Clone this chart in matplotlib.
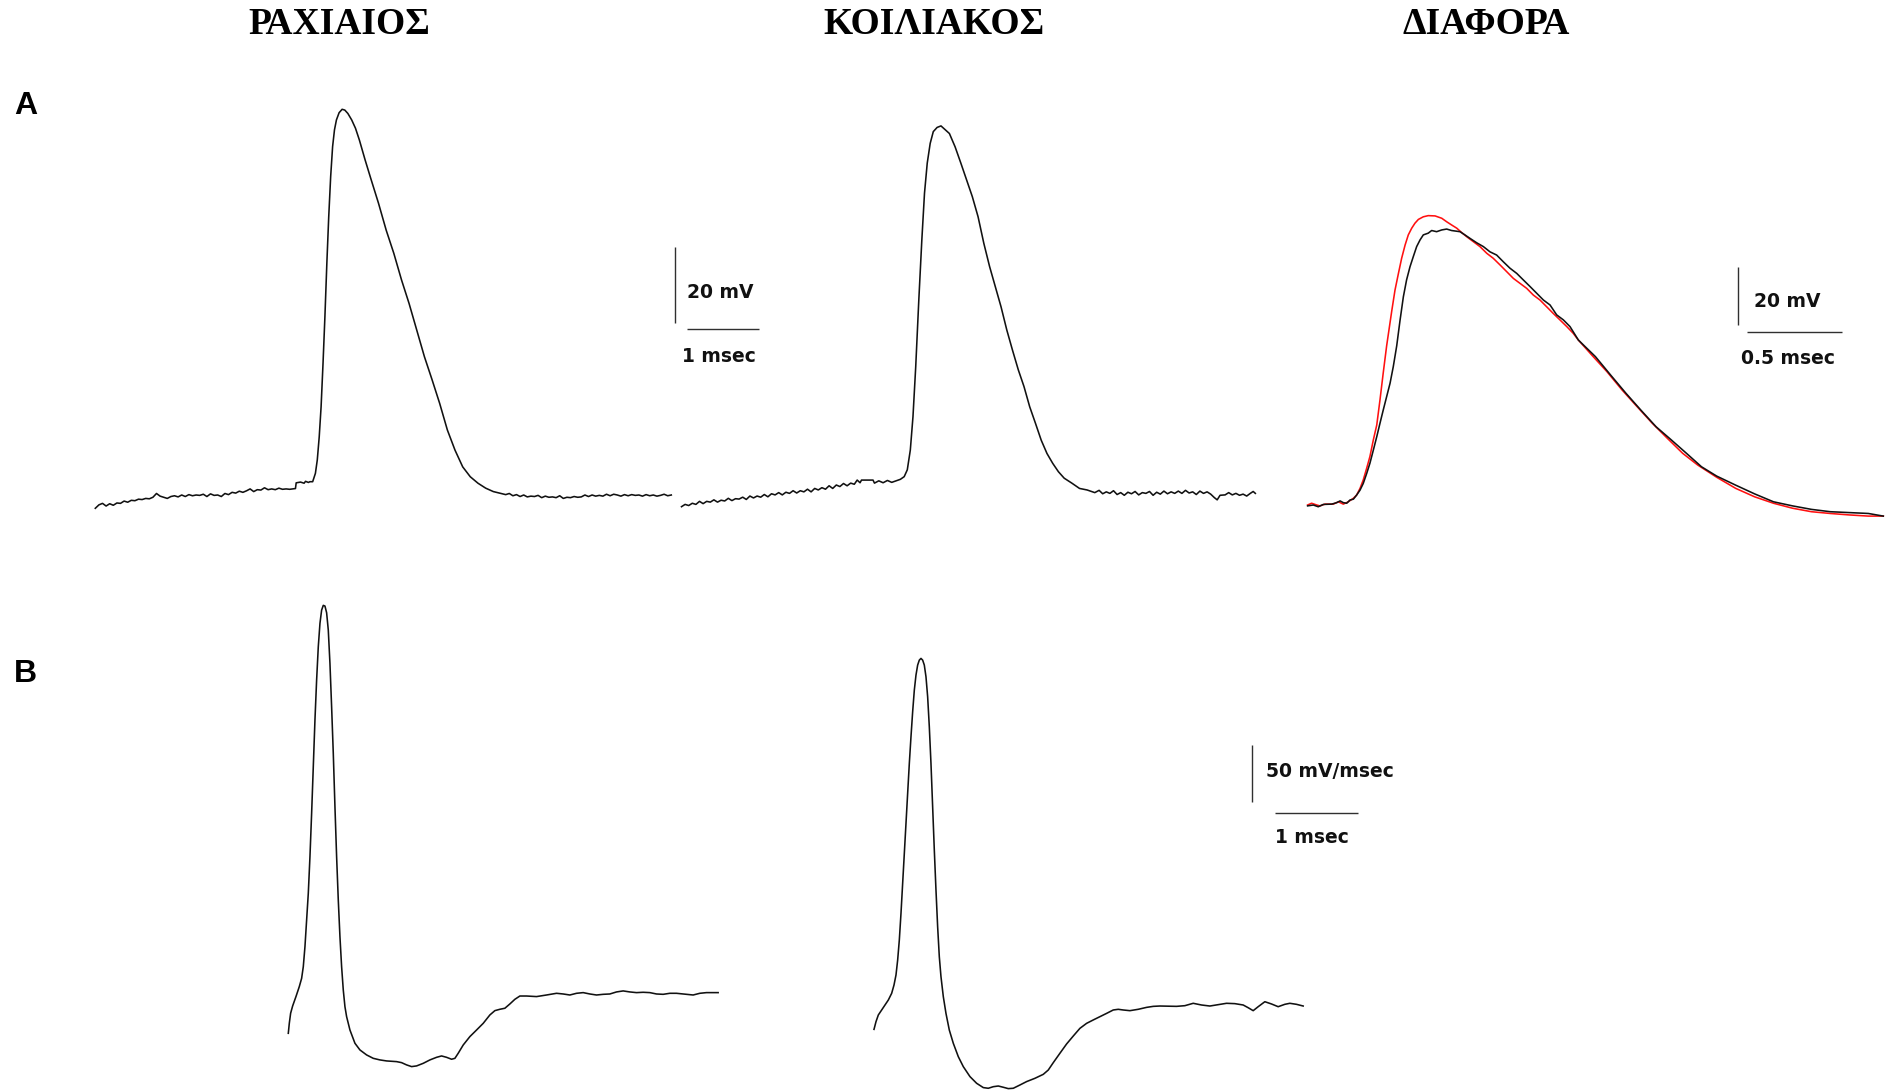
import matplotlib
matplotlib.use("Agg")
import matplotlib.pyplot as plt

W, H, DPI = 1894, 1091, 100

# ---------------- data ----------------
# A: membrane potential (ms, mV)
rachiaios_t = [0.00, 0.05, 0.10, 0.15, 0.20, 0.25, 0.30, 0.35, 0.40, 0.45, 0.50, 0.55, 0.60, 0.65,
               0.70, 0.75, 0.80, 0.85, 0.90, 0.95, 1.00, 1.05, 1.10, 1.15, 1.20, 1.25, 1.30, 1.35,
               1.40, 1.45, 1.50, 1.55, 1.60, 1.65, 1.70, 1.75, 1.80, 1.85, 1.90, 1.95, 2.00, 2.05,
               2.10, 2.15, 2.20, 2.25, 2.30, 2.35, 2.40, 2.45, 2.50, 2.55, 2.60, 2.65, 2.70, 2.78,
               2.79, 2.85, 2.90, 2.92, 2.96, 2.98,
               3.019, 3.057, 3.083, 3.110, 3.136, 3.163, 3.189, 3.216, 3.242, 3.269, 3.296, 3.322,
               3.349, 3.386, 3.428, 3.465, 3.508, 3.561, 3.614, 3.668, 3.747, 3.826, 3.933, 4.040,
               4.146, 4.253, 4.358, 4.465, 4.571, 4.678, 4.783, 4.890, 4.996, 5.103, 5.208, 5.315,
               5.422, 5.528, 5.635,
               5.70, 5.75, 5.80, 5.85, 5.90, 5.95, 6.00, 6.05, 6.10, 6.15, 6.20, 6.25, 6.30,
               6.35, 6.40, 6.45, 6.50, 6.55, 6.60, 6.65, 6.70, 6.75, 6.80, 6.85, 6.90, 6.95, 7.00,
               7.05, 7.10, 7.15, 7.20, 7.25, 7.30, 7.35, 7.40, 7.45, 7.50, 7.55, 7.60, 7.65, 7.70,
               7.75, 7.80, 7.85, 7.90, 7.95, 8.00]
rachiaios_v = [-78.5, -77.6, -77.2, -77.9, -77.3, -77.7, -77.1, -77.2, -76.6, -76.9, -76.4, -76.5,
               -76.1, -76.2, -75.9, -76.0, -75.6, -74.6, -75.3, -75.6, -75.9, -75.4, -75.2, -75.5,
               -75.0, -75.4, -74.9, -75.2, -75.0, -75.1, -74.8, -75.4, -74.7, -75.1, -75.0, -75.4,
               -74.6, -74.9, -74.3, -74.5, -74.0, -74.3, -73.9, -73.4, -74.1, -73.6, -73.7, -73.1,
               -73.6, -73.4, -73.6, -73.2, -73.5, -73.4, -73.5, -73.3,
               -71.8, -71.6, -71.9, -71.4, -71.7, -71.5,
               -71.5, -69.3, -65.8, -59.7, -51.8, -40.3, -28.1, -14.0, -1.8, 8.8, 16.7, 21.1,
               23.7, 25.6, 26.5, 26.3, 25.4, 23.7, 21.5, 18.4, 13.2, 8.3, 1.8, -5.3,
               -11.4, -18.4, -24.6, -31.6, -38.6, -44.7, -50.9, -57.9, -63.2, -67.6, -70.2, -71.9,
               -73.2, -74.1, -74.6,
               -74.9, -74.6, -75.2, -74.9, -75.4, -75.0, -75.5, -75.3, -75.4, -75.1, -75.7,
               -75.3, -75.6, -75.5, -75.7, -75.2, -75.9, -75.6, -75.7, -75.4, -75.6, -75.5, -75.0,
               -75.4, -75.0, -75.3, -75.1, -75.3, -74.8, -75.2, -74.8, -75.0, -75.3, -74.9, -75.2,
               -74.9, -75.1, -75.0, -75.3, -74.9, -75.2, -75.0, -75.3, -75.1, -74.8, -75.2, -75.0]

koiliakos_t = [0.00, 0.05, 0.10, 0.15, 0.20, 0.25, 0.30, 0.35, 0.40, 0.45, 0.50, 0.55, 0.60, 0.65,
               0.70, 0.75, 0.80, 0.85, 0.90, 0.95, 1.00, 1.05, 1.10, 1.15, 1.20, 1.25, 1.30, 1.35,
               1.40, 1.45, 1.50, 1.55, 1.60, 1.65, 1.70, 1.75, 1.80, 1.85, 1.90, 1.95, 2.00, 2.05,
               2.10, 2.15, 2.20, 2.25, 2.30, 2.35, 2.40, 2.44, 2.48, 2.50, 2.66, 2.68, 2.74, 2.80,
               2.86, 2.92, 2.98, 3.04,
               3.093, 3.136, 3.178, 3.215, 3.253, 3.296, 3.338, 3.375, 3.413, 3.454, 3.497, 3.550,
               3.604, 3.657, 3.721, 3.800, 3.880, 3.960, 4.039, 4.119, 4.199, 4.279, 4.358, 4.438,
               4.518, 4.597, 4.678, 4.757, 4.836, 4.917, 4.996, 5.076, 5.156, 5.235, 5.315, 5.421,
               5.528, 5.633, 5.740,
               5.80, 5.85, 5.90, 5.95, 6.00, 6.05, 6.10, 6.15, 6.20, 6.25, 6.30,
               6.35, 6.40, 6.45, 6.50, 6.55, 6.60, 6.65, 6.70, 6.75, 6.80, 6.85, 6.90, 6.95, 7.00,
               7.05, 7.10, 7.15, 7.20, 7.25, 7.30, 7.35, 7.40, 7.44, 7.48, 7.55, 7.60, 7.65, 7.70,
               7.75, 7.80, 7.85, 7.90, 7.94, 7.97]
koiliakos_v = [-78.6, -78.0, -78.3, -77.7, -78.0, -77.2, -77.8, -77.2, -77.4, -76.8, -77.4, -76.9,
               -77.1, -76.4, -77.0, -76.5, -76.6, -76.1, -76.7, -75.8, -76.3, -75.8, -76.1, -75.4,
               -76.0, -75.2, -75.5, -74.9, -75.5, -74.8, -75.1, -74.4, -75.0, -74.4, -74.7, -74.0,
               -74.7, -73.8, -74.2, -73.6, -74.0, -73.1, -73.8, -72.9, -73.3, -72.5, -73.1, -72.4,
               -72.7, -71.6, -72.3, -71.6, -71.6, -72.4, -71.8, -72.3, -71.7, -72.2, -71.8, -71.4,
               -70.7, -68.9, -63.7, -54.9, -41.8, -24.2, -8.4, 3.9, 11.8, 17.0, 20.1, 21.2,
               21.6, 20.7, 19.6, 16.1, 11.8, 7.4, 3.0, -2.3, -9.3, -15.4, -20.7, -26.0,
               -32.1, -37.4, -42.6, -47.0, -52.3, -56.7, -61.1, -64.6, -67.2, -69.4, -71.1, -72.4,
               -73.8, -74.2, -74.9,
               -74.3, -75.2, -74.7, -75.1, -74.4, -75.4, -74.9, -75.6, -74.8, -75.2, -74.6,
               -75.5, -74.9, -75.1, -74.6, -75.6, -74.8, -75.3, -74.5, -75.2, -74.7, -75.1,
               -74.5, -75.1, -74.3, -75.0, -74.7, -75.4, -74.5, -75.1, -74.7, -75.3, -76.2,
               -76.8, -75.6, -75.5, -74.9, -75.5, -75.1, -75.6, -75.3, -75.8, -75.1, -74.6, -75.1]

# Superimposed traces on an expanded time base
diafora_black_t = [0.000, 0.030, 0.056, 0.083, 0.127, 0.153, 0.171, 0.188, 0.206, 0.223, 0.241,
                   0.258, 0.276, 0.293, 0.311, 0.328, 0.346, 0.364, 0.381, 0.398, 0.416, 0.434,
                   0.451, 0.469, 0.486, 0.504, 0.521, 0.539, 0.556, 0.574, 0.592, 0.609, 0.635,
                   0.653, 0.679, 0.706, 0.732, 0.758, 0.802, 0.828, 0.855, 0.890, 0.925, 0.960,
                   0.995, 1.030, 1.065, 1.101, 1.135, 1.171, 1.206, 1.241, 1.276, 1.311, 1.346,
                   1.381, 1.425, 1.515, 1.595, 1.675, 1.754, 1.834, 1.914, 1.994, 2.073, 2.153,
                   2.253, 2.353, 2.452, 2.552, 2.652, 2.751, 2.851, 2.951, 3.030]
diafora_black_v = [-75.3, -75.0, -75.6, -74.8, -74.7, -74.2, -73.6, -74.2, -74.4, -73.3, -73.0,
                   -71.6, -69.9, -67.6, -64.2, -60.7, -56.2, -51.6, -47.0, -42.5, -37.9, -33.3,
                   -27.6, -20.5, -12.0, -3.7, 2.1, 6.6, 10.0, 13.5, 15.8, 17.5, 18.1,
                   19.0, 18.6, 19.2, 19.5, 19.0, 18.6, 17.5, 16.3, 14.8, 13.5, 11.7,
                   10.6, 8.3, 6.1, 4.3, 2.1, -0.2, -2.5, -4.8, -6.5, -9.9, -11.6,
                   -13.9, -18.5, -24.2, -30.5, -36.7, -42.5, -48.2, -52.7, -57.3, -61.9, -65.1,
                   -68.2, -71.2, -73.9, -75.3, -76.5, -77.3, -77.6, -77.9, -78.8]
diafora_red_t = [0.000, 0.021, 0.048, 0.065, 0.092, 0.135, 0.162, 0.188, 0.214, 0.241, 0.258,
                 0.276, 0.293, 0.311, 0.328, 0.346, 0.364, 0.381, 0.398, 0.416, 0.443,
                 0.460, 0.478, 0.495, 0.513, 0.530, 0.548, 0.565, 0.583, 0.609, 0.635, 0.671,
                 0.706, 0.732, 0.758, 0.785, 0.811, 0.837, 0.872, 0.907, 0.943, 0.977, 1.013,
                 1.048, 1.083, 1.118, 1.153, 1.188, 1.223, 1.258, 1.293, 1.328, 1.364, 1.398,
                 1.425, 1.495, 1.575, 1.655, 1.734, 1.814, 1.894, 1.974, 2.053, 2.153, 2.253,
                 2.353, 2.452, 2.552, 2.652, 2.751, 2.851, 2.951, 3.030]
diafora_red_v = [-75.0, -74.4, -75.0, -75.3, -74.7, -74.7, -73.9, -74.7, -73.9, -72.7, -71.6,
                 -69.3, -66.4, -62.4, -58.4, -52.7, -47.6, -39.0, -29.8, -20.5, -8.5,
                 -1.4, 4.3, 9.5, 14.0, 17.5, 19.8, 21.5, 22.8, 23.7, 24.1, 24.0,
                 23.2, 22.0, 20.9, 19.8, 18.3, 16.9, 15.2, 13.5, 11.2, 9.5, 7.2,
                 4.9, 2.6, 0.9, -0.8, -3.1, -4.8, -7.1, -9.4, -11.6, -13.9, -16.2,
                 -18.5, -23.6, -29.3, -35.6, -41.3, -47.0, -52.2, -57.3, -61.3, -65.5, -69.3,
                 -72.2, -74.4, -76.1, -77.3, -77.9, -78.4, -78.8, -78.8]

# B: first derivative dV/dt (ms, mV/msec)
rachiaios_dvdt_t = [0.000, 0.012, 0.028, 0.052, 0.092, 0.132, 0.160, 0.180, 0.200, 0.220, 0.240,
                    0.260, 0.280, 0.300, 0.320, 0.340, 0.360, 0.380, 0.400, 0.420, 0.440, 0.460,
                    0.480, 0.500, 0.520, 0.540, 0.560, 0.580, 0.600, 0.620, 0.640, 0.660, 0.680,
                    0.700, 0.740, 0.800, 0.860, 0.940, 1.020, 1.100, 1.180, 1.300, 1.360, 1.420,
                    1.480, 1.540, 1.620, 1.700, 1.780, 1.840, 1.900, 1.960, 2.000, 2.040, 2.100,
                    2.180, 2.260, 2.340, 2.420, 2.480, 2.540, 2.600, 2.660, 2.720, 2.780, 2.860,
                    2.980, 3.100, 3.220, 3.300, 3.380, 3.460, 3.540, 3.620, 3.700, 3.780, 3.860,
                    3.940, 4.020, 4.100, 4.180, 4.260, 4.340, 4.420, 4.500, 4.580, 4.660, 4.780,
                    4.860, 4.940, 5.020, 5.160]
rachiaios_dvdt = [-35.3, -26.5, -17.6, -11.2, -2.9, 5.9, 13.2, 23.5, 41.2, 64.7, 88.2,
                  120.6, 158.8, 200.0, 241.2, 276.5, 305.9, 326.5, 338.2, 342.4, 341.8, 335.9,
                  320.6, 291.2, 252.9, 211.8, 164.7, 120.6, 82.4, 50.0, 23.5, 2.9, -11.8,
                  -20.6, -32.4, -44.1, -50.0, -54.4, -57.4, -58.8, -59.7, -60.3, -61.2, -63.2,
                  -64.7, -64.1, -61.8, -58.8, -56.5, -55.3, -56.5, -58.2, -57.4, -52.9, -45.6,
                  -38.2, -32.4, -26.5, -19.1, -15.3, -14.1, -13.2, -9.4, -5.3, -2.4, -2.4,
                  -2.9, -1.5, 0.0, -0.6, -1.5, 0.0, 0.6, -0.6, -1.5, -0.9, -0.6,
                  1.2, 2.1, 1.2, 0.6, 0.9, 0.6, -0.6, -0.9, 0.0, 0.0, -0.9,
                  -1.5, 0.0, 0.6, 0.6]

koiliakos_dvdt_t = [0.000, 0.024, 0.052, 0.092, 0.132, 0.172, 0.212, 0.240, 0.264, 0.284, 0.304,
                    0.324, 0.344, 0.364, 0.384, 0.404, 0.424, 0.444, 0.464, 0.484, 0.504, 0.524,
                    0.544, 0.564, 0.584, 0.604, 0.624, 0.644, 0.664, 0.684, 0.704, 0.724, 0.744,
                    0.764, 0.784, 0.804, 0.832, 0.864, 0.904, 0.952, 1.012, 1.072, 1.152, 1.232,
                    1.312, 1.372, 1.432, 1.492, 1.552, 1.612, 1.672, 1.752, 1.832, 1.932, 2.032,
                    2.092, 2.152, 2.232, 2.312, 2.392, 2.472, 2.552, 2.632, 2.712, 2.792, 2.872,
                    2.932, 2.992, 3.072, 3.172, 3.272, 3.352, 3.432, 3.632, 3.732, 3.832, 3.932,
                    4.032, 4.132, 4.232, 4.332, 4.432, 4.492, 4.552, 4.612, 4.692, 4.772, 4.852,
                    4.932, 4.992, 5.072, 5.152]
koiliakos_dvdt = [-21.5, -14.7, -8.8, -4.4, 0.0, 4.4, 10.3, 17.6, 26.5, 39.7, 57.4,
                  80.9, 107.4, 133.8, 160.3, 186.8, 213.2, 236.8, 258.8, 277.9, 291.2, 300.0,
                  304.4, 305.9, 304.4, 300.0, 289.7, 272.1, 245.6, 213.2, 175.0, 136.8, 101.5,
                  69.1, 42.6, 25.0, 7.4, -7.4, -22.1, -33.8, -45.6, -54.4, -63.2, -69.1,
                  -72.9, -73.5, -72.1, -71.5, -72.6, -73.8, -73.5, -70.6, -67.6, -64.7, -61.2,
                  -57.4, -50.9, -42.6, -34.4, -27.4, -20.6, -16.2, -13.2, -10.3, -7.4, -4.4,
                  -3.8, -4.4, -5.0, -3.8, -2.1, -1.2, -0.9, -1.2, -0.6, 1.5, 0.0,
                  -0.9, 0.3, 1.5, 1.2, 0.0, -2.4, -5.0, -1.5, 2.9, 0.9, -1.5,
                  0.6, 1.5, 0.6, -0.9]

column_titles = ["ΡΑΧΙΑΙΟΣ", "ΚΟΙΛΙΑΚΟΣ", "ΔΙΑΦΟΡΑ"]
panel_labels = ["A", "B"]

# ---------------- figure ----------------
fig = plt.figure(figsize=(W / DPI, H / DPI), dpi=DPI)
fig.patch.set_facecolor("white")


def trace_axes(x0_px, y0_px, px_per_x, px_per_y, v0):
    """Full-figure transparent axes: time 0 at pixel column x0_px,
    value v0 at pixel row y0_px (from the top), with the given gains."""
    ax = fig.add_axes([0, 0, 1, 1], facecolor="none")
    ax.set_xlim(-x0_px / px_per_x, (W - x0_px) / px_per_x)
    ax.set_ylim(v0 - (H - y0_px) / px_per_y, v0 + y0_px / px_per_y)
    ax.axis("off")
    return ax


def scale_bar(ax, x, y, dy, hx, hy, dx, ylabel, xlabel, ylab_xy, xlab_xy):
    bar_kw = dict(color="#303030", lw=1.0, solid_capstyle="butt")
    ax.plot([x, x], [y, y + dy], **bar_kw)
    ax.plot([hx, hx + dx], [hy, hy], **bar_kw)
    txt_kw = dict(fontsize=13.5, fontweight="bold", family="DejaVu Sans",
                  ha="left", va="center", color="#111111")
    ax.text(*ylab_xy, ylabel, **txt_kw)
    ax.text(*xlab_xy, xlabel, **txt_kw)


trace_kw = dict(color="#111111", lw=1.15, solid_joinstyle="round")

# Row A
ax_a1 = trace_axes(95.3, 495, 72.0, 3.8, -75.0)
ax_a1.plot(rachiaios_t, rachiaios_v, **trace_kw)
scale_bar(ax_a1, 8.05, -29.7, 20, 8.22, -31.3, 1.0, "20 mV", "1 msec",
          (8.22, -21.7), (8.15, -38.6))

ax_a2 = trace_axes(681.5, 493, 72.0, 3.8, -75.0)
ax_a2.plot(koiliakos_t, koiliakos_v, **trace_kw)

ax_a3 = trace_axes(1307.6, 505, 190.0, 2.92, -75.0)
ax_a3.plot(diafora_red_t, diafora_red_v, color="#ff1010", lw=1.15, solid_joinstyle="round")
ax_a3.plot(diafora_black_t, diafora_black_v, **trace_kw)
scale_bar(ax_a3, 2.265, -13.4, 20, 2.313, -15.6, 0.5, "20 mV", "0.5 msec",
          (2.352, -5.4), (2.281, -24.7))

# Row B
ax_b1 = trace_axes(288.3, 993.3, 83.3, 1.133, 0.0)
ax_b1.plot(rachiaios_dvdt_t, rachiaios_dvdt, **trace_kw)

ax_b2 = trace_axes(874.0, 1005.0, 83.3, 1.133, 0.0)
ax_b2.plot(koiliakos_dvdt_t, koiliakos_dvdt, **trace_kw)
scale_bar(ax_b2, 4.54, 179.4, 50, 4.81, 169.2, 1.0, "50 mV/msec", "1 msec",
          (4.70, 205.9), (4.81, 147.4))

# Column titles and panel letters
for title, xc in zip(column_titles, [339.5, 934.0, 1486.0]):
    fig.text(xc / W, 1 - 25 / H, title, ha="center", va="center",
             fontsize=27, fontweight="bold", family="Liberation Serif")
for label, yc in zip(panel_labels, [105.5, 673.5]):
    fig.text(14 / W, 1 - yc / H, label, ha="left", va="center",
             fontsize=23, fontweight="bold", family="Liberation Sans")

fig.savefig("out.png", dpi=DPI, facecolor="white")
